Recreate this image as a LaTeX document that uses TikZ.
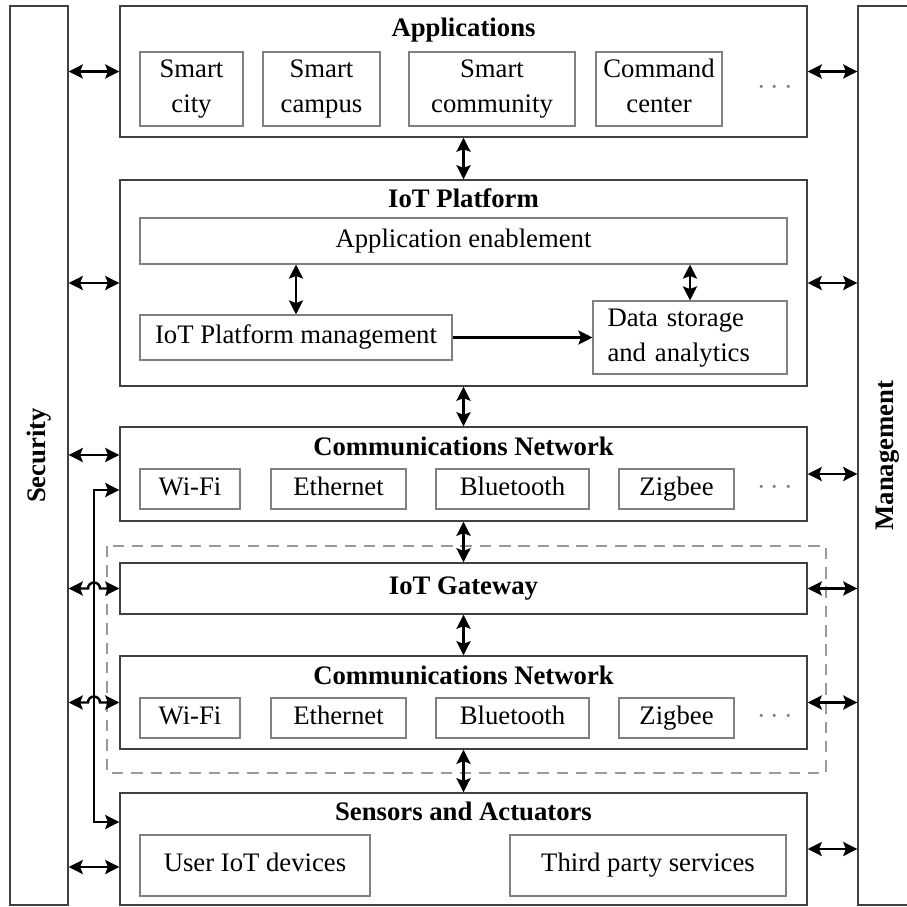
\documentclass[tikz,border=0pt]{standalone}
\usepackage{fontspec}
\setmainfont{Liberation Serif}
\usetikzlibrary{arrows.meta}

\tikzset{
  layer/.style = {rectangle,
    draw = black!75,
    line width = 0.8pt,
    minimum width = 13.74cm},
  item/.style = {rectangle,
    draw = gray,
    line width = 0.6pt,
    inner sep = 0pt,
    text height = 10.5pt,
    text depth = 3.5pt,
    align = center},
  twoline/.style = {item, text height = 30.5pt},
  title/.style = {anchor = base, font = \fontsize{15.2}{20}\selectfont\bfseries},
  bar/.style = {rectangle,
    draw = black!75,
    line width = 0.8pt,
    minimum width = 1.16cm,
    minimum height = 17.98cm},
  layertip/.tip = {Stealth[length=8pt,width=8pt,inset=1.5pt]},
  biarrow/.style = {{layertip}-{layertip}, line width = 1.4pt},
  onearrow/.style = {-{layertip}, line width = 1.4pt},
  more/.style = {text = gray, font = \fontsize{17}{20}\selectfont}
}

\begin{document}
\begin{tikzpicture}[font = \fontsize{15.2}{20}\selectfont]
\useasboundingbox (0,0) rectangle (18.12,-18.14);

% side bars
\node[bar] (sec) at (0.78,-9.11) {};
\node[rotate = 90, font = \fontsize{15.2}{20}\selectfont\bfseries] (seclabel) at (sec) {Security};
\node[bar, minimum width = 1.6cm] (mgmt) at (17.96,-9.11) {};
\node[rotate = 90, font = \fontsize{15.2}{20}\selectfont\bfseries] (mgmtlabel) at (17.76,-9.11) {Management};

% gateway group
\draw[gray!80, line width = 1pt, dash pattern = on 6.5pt off 4.5pt] (2.14,-10.92) rectangle (16.52,-15.46);

% applications
\node[layer, minimum height = 2.62cm] (apps) at (9.27,-1.43) {};
\node[title] (appstitle) at ([yshift=-0.62cm]apps.north) {Applications};
\node[twoline, minimum width = 2.06cm, minimum height = 1.48cm] (city) at (3.83,-1.78) {Smart\\city};
\node[twoline, minimum width = 2.34cm, minimum height = 1.48cm] (campus) at (6.43,-1.78) {Smart\\campus};
\node[twoline, minimum width = 3.32cm, minimum height = 1.48cm] (community) at (9.84,-1.78) {Smart\\community};
\node[twoline, minimum width = 2.52cm, minimum height = 1.48cm] (command) at (13.18,-1.78) {Command\\center};
\node[more] (appsmore) at (15.5,-1.76) {$\cdots$};

% iot platform
\node[layer, minimum height = 4.12cm] (platform) at (9.27,-5.66) {};
\node[title] (platformtitle) at ([yshift=-0.56cm]platform.north) {IoT Platform};
\node[item, minimum width = 12.94cm, minimum height = 0.92cm] (enable) at (9.27,-4.82) {Application enablement};
\node[item, minimum width = 6.24cm, minimum height = 0.90cm] (pmgmt) at (5.92,-6.75) {IoT Platform management};
\node[item, minimum width = 3.88cm, minimum height = 1.46cm,
    text width = 3.3cm, text depth = 23.5pt, align = left] (data) at (13.8,-6.75) {Data storage\\and analytics};

\draw[biarrow] (pmgmt.north) -- (pmgmt.north |- enable.south);
\draw[biarrow] (data.north) -- (data.north |- enable.south);
\draw[onearrow] (pmgmt.east) -- (data.west);

% upper communications network
\node[layer, minimum height = 1.88cm] (cnup) at (9.27,-9.48) {};
\node[title] (cnuptitle) at ([yshift=-0.58cm]cnup.north) {Communications Network};
\node[item, minimum width = 2.0cm, minimum height = 0.8cm] (wifiup) at (3.8,-9.78) {Wi-Fi};
\node[item, minimum width = 2.7cm, minimum height = 0.8cm] (ethup) at (6.77,-9.78) {Ethernet};
\node[item, minimum width = 3.06cm, minimum height = 0.8cm] (btup) at (10.25,-9.78) {Bluetooth};
\node[item, minimum width = 2.3cm, minimum height = 0.8cm] (zigup) at (13.53,-9.78) {Zigbee};
\node[more] (cnupmore) at (15.5,-9.76) {$\cdots$};

% iot gateway
\node[layer, minimum height = 1.02cm, font = \fontsize{15.2}{20}\selectfont\bfseries] (gateway) at (9.27,-11.77) {IoT Gateway};

% lower communications network
\node[layer, minimum height = 1.86cm] (cnlow) at (9.27,-14.05) {};
\node[title] (cnlowtitle) at ([yshift=-0.58cm]cnlow.north) {Communications Network};
\node[item, minimum width = 2.0cm, minimum height = 0.8cm] (wifilow) at (3.8,-14.36) {Wi-Fi};
\node[item, minimum width = 2.7cm, minimum height = 0.8cm] (ethlow) at (6.77,-14.36) {Ethernet};
\node[item, minimum width = 3.06cm, minimum height = 0.8cm] (btlow) at (10.25,-14.36) {Bluetooth};
\node[item, minimum width = 2.3cm, minimum height = 0.8cm] (ziglow) at (13.53,-14.36) {Zigbee};
\node[more] (cnlowmore) at (15.5,-14.34) {$\cdots$};

% sensors and actuators
\node[layer, minimum height = 2.24cm] (sensors) at (9.27,-16.98) {};
\node[title] (sensorstitle) at ([yshift=-0.56cm]sensors.north) {Sensors and Actuators};
\node[item, minimum width = 4.6cm, minimum height = 1.22cm] (user) at (5.1,-17.31) {User IoT devices};
\node[item, minimum width = 5.52cm, minimum height = 1.22cm] (third) at (12.96,-17.31) {Third party services};

% layer to layer
\draw[biarrow] (apps.south) -- (platform.north);
\draw[biarrow] (platform.south) -- (cnup.north);
\draw[biarrow] (cnup.south) -- (gateway.north);
\draw[biarrow] (gateway.south) -- (cnlow.north);
\draw[biarrow] (cnlow.south) -- (sensors.north);

% security side
\coordinate (bus) at (1.88,0);
\draw[biarrow] (sec.east |- apps.west) -- (apps.west);
\draw[biarrow] (sec.east |- platform.west) -- (platform.west);
\draw[biarrow] (sec.east |- 0,-9.1) -- (cnup.west |- 0,-9.1);
\draw[biarrow] ([yshift=-0.32cm]cnup.west) -- ([yshift=-0.32cm]cnup.west -| bus)
    -- ([yshift=0.54cm]sensors.west -| bus) -- ([yshift=0.54cm]sensors.west);
\draw[biarrow] (sec.east |- gateway.west) -- ([xshift=-0.12cm]bus |- gateway.west)
    arc[start angle = 180, end angle = 0, radius = 0.12cm] -- (gateway.west);
\draw[biarrow] (sec.east |- cnlow.west) -- ([xshift=-0.12cm]bus |- cnlow.west)
    arc[start angle = 180, end angle = 0, radius = 0.12cm] -- (cnlow.west);
\draw[biarrow] (sec.east |- 0,-17.34) -- (sensors.west |- 0,-17.34);

% management side
\draw[biarrow] (apps.east) -- (mgmt.west |- apps.east);
\draw[biarrow] (platform.east) -- (mgmt.west |- platform.east);
\draw[biarrow] (cnup.east) -- (mgmt.west |- cnup.east);
\draw[biarrow] (gateway.east) -- (mgmt.west |- gateway.east);
\draw[biarrow] (cnlow.east) -- (mgmt.west |- cnlow.east);
\draw[biarrow] (sensors.east) -- (mgmt.west |- sensors.east);
\end{tikzpicture}
\end{document}
